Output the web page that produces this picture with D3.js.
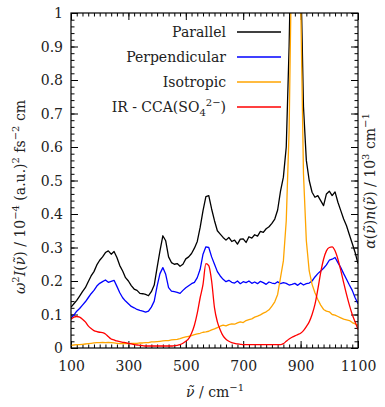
<!DOCTYPE html>
<html><head><meta charset="utf-8">
<script src="https://cdn.jsdelivr.net/npm/d3@7"></script>
<style>
body{margin:0;background:#fff}
svg text{font-family:"DejaVu Serif",serif;fill:#222}
</style>
</head><body>
<svg id="chart" width="385" height="407"></svg>
<script>
const wavenumbers = [100,110,120,130,140,150,160,170,180,190,200,210,220,230,240,250,260,270,280,290,300,310,320,330,340,350,360,370,380,390,400,410,420,430,440,450,460,470,480,490,500,510,520,530,540,550,560,570,580,590,600,610,620,630,640,650,660,670,680,690,700,710,720,730,740,750,760,770,780,790,800,810,820,830,840,850,860,870,880,890,900,910,920,930,940,950,960,970,980,990,1000,1010,1020,1030,1040,1050,1060,1070,1080,1090,1100];

const parallel = [0.122,0.132,0.142,0.155,0.168,0.180,0.198,0.215,0.228,0.248,0.262,0.272,0.285,0.290,0.280,0.288,0.270,0.246,0.230,0.210,0.200,0.186,0.176,0.172,0.163,0.162,0.160,0.156,0.168,0.188,0.240,0.290,0.335,0.320,0.272,0.255,0.250,0.252,0.244,0.250,0.266,0.272,0.282,0.298,0.318,0.360,0.410,0.452,0.455,0.415,0.380,0.350,0.340,0.330,0.322,0.330,0.318,0.322,0.310,0.325,0.326,0.315,0.332,0.328,0.338,0.334,0.348,0.345,0.356,0.362,0.372,0.385,0.412,0.468,0.510,0.600,0.900,1.350,1.650,1.600,1.150,0.720,0.560,0.500,0.465,0.450,0.455,0.440,0.425,0.460,0.468,0.455,0.466,0.435,0.410,0.385,0.365,0.338,0.312,0.285,0.252];

const perpendicular = [0.090,0.098,0.110,0.118,0.128,0.138,0.150,0.162,0.172,0.185,0.193,0.198,0.203,0.196,0.199,0.202,0.184,0.165,0.150,0.140,0.132,0.124,0.120,0.115,0.112,0.110,0.107,0.110,0.122,0.140,0.185,0.222,0.240,0.220,0.180,0.170,0.168,0.166,0.163,0.172,0.180,0.186,0.192,0.196,0.210,0.235,0.280,0.302,0.300,0.272,0.250,0.228,0.215,0.205,0.198,0.202,0.196,0.194,0.200,0.192,0.198,0.195,0.200,0.193,0.197,0.192,0.199,0.195,0.190,0.197,0.194,0.192,0.198,0.192,0.195,0.193,0.188,0.190,0.193,0.187,0.194,0.188,0.192,0.194,0.200,0.212,0.222,0.230,0.238,0.248,0.262,0.265,0.270,0.255,0.240,0.222,0.205,0.188,0.172,0.150,0.132];

const isotropic = [0.008,0.009,0.010,0.010,0.011,0.012,0.013,0.014,0.015,0.016,0.016,0.017,0.016,0.017,0.016,0.015,0.014,0.013,0.013,0.014,0.013,0.014,0.014,0.014,0.015,0.015,0.016,0.016,0.018,0.018,0.019,0.020,0.021,0.022,0.022,0.024,0.025,0.026,0.028,0.031,0.033,0.035,0.037,0.040,0.042,0.044,0.047,0.048,0.050,0.054,0.057,0.061,0.065,0.068,0.066,0.070,0.072,0.071,0.075,0.078,0.076,0.082,0.085,0.087,0.092,0.095,0.099,0.104,0.108,0.114,0.125,0.138,0.160,0.210,0.260,0.380,0.650,1.250,1.900,1.800,1.050,0.520,0.320,0.230,0.190,0.165,0.145,0.128,0.115,0.110,0.108,0.100,0.098,0.094,0.090,0.086,0.084,0.082,0.076,0.072,0.068];

const irCCA = [0.086,0.092,0.094,0.092,0.086,0.078,0.066,0.058,0.052,0.049,0.047,0.046,0.042,0.034,0.027,0.024,0.021,0.019,0.017,0.016,0.014,0.012,0.010,0.009,0.008,0.007,0.006,0.006,0.006,0.006,0.006,0.006,0.006,0.006,0.006,0.006,0.007,0.008,0.010,0.014,0.020,0.028,0.044,0.068,0.104,0.150,0.190,0.252,0.246,0.200,0.120,0.078,0.054,0.036,0.026,0.020,0.016,0.014,0.012,0.011,0.010,0.010,0.010,0.010,0.010,0.010,0.010,0.010,0.010,0.010,0.010,0.010,0.010,0.010,0.013,0.020,0.027,0.032,0.036,0.040,0.044,0.052,0.064,0.078,0.100,0.130,0.175,0.225,0.265,0.290,0.300,0.302,0.290,0.265,0.232,0.195,0.160,0.128,0.100,0.078,0.055];

const xTickValues = [100,300,500,700,900,1100];
const yTickValues = [0,0.1,0.2,0.3,0.4,0.5,0.6,0.7,0.8,0.9,1];

const seriesNames = ["Parallel","Perpendicular","Isotropic","IR - CCA(SO4 2-)"];
const seriesColors = ["#000000","#0000ff","#ffa500","#ff0000"];
const seriesData = [parallel, perpendicular, isotropic, irCCA];

const svg = d3.select("#chart");
const L = 71, R = 358, T = 13, B = 348;
const x = d3.scaleLinear().domain([100,1100]).range([L,R]);
const y = d3.scaleLinear().domain([0,1]).range([B,T]);

svg.append("defs").append("clipPath").attr("id","clip")
  .append("rect").attr("x",L).attr("y",T).attr("width",R-L).attr("height",B-T);

// minor ticks
const xMinor = d3.range(100,1101,20);
const yMinor = d3.range(0,1.0001,0.02);
function drawAxis(axis, tx, ty){
  const g = svg.append("g").attr("transform",`translate(${tx},${ty})`).call(axis);
  g.select(".domain").remove();
  g.selectAll(".tick line").attr("stroke","#000").attr("stroke-width",1);
  return g;
}
drawAxis(d3.axisBottom(x).tickValues(xMinor).tickSize(-3.5).tickFormat(""),0,B);
drawAxis(d3.axisTop(x).tickValues(xMinor).tickSize(-3.5).tickFormat(""),0,T);
drawAxis(d3.axisLeft(y).tickValues(yMinor).tickSize(-3.5).tickFormat(""),L,0);
drawAxis(d3.axisRight(y).tickValues(yMinor).tickSize(-3.5).tickFormat(""),R,0);

const gx = drawAxis(d3.axisBottom(x).tickValues(xTickValues).tickSize(-7).tickFormat(d3.format("d")),0,B);
gx.selectAll("text").attr("y",13).attr("dy","0.71em").attr("font-size",14).attr("font-family","DejaVu Serif").attr("fill","#222");
drawAxis(d3.axisTop(x).tickValues(xTickValues).tickSize(-7).tickFormat(""),0,T);
const gy = drawAxis(d3.axisLeft(y).tickValues(yTickValues).tickSize(-7).tickFormat(d3.format(".1~f")),L,0);
gy.selectAll("text").attr("x",-8).attr("dy","0.35em").attr("font-size",14).attr("font-family","DejaVu Serif").attr("fill","#222");
drawAxis(d3.axisRight(y).tickValues(yTickValues).tickSize(-7).tickFormat(""),R,0);

// lines
const plot = svg.append("g").attr("clip-path","url(#clip)");
seriesData.forEach((vals,i)=>{
  const line = d3.line()
    .x((d,j)=>x(wavenumbers[j]))
    .y(d=>y(d))
    .curve(i===3 ? d3.curveMonotoneX : d3.curveLinear);
  plot.append("path").datum(vals)
    .attr("fill","none").attr("stroke",seriesColors[i])
    .attr("stroke-width",1.3).attr("stroke-linejoin","round")
    .attr("d",line);
});

// frame
svg.append("rect").attr("x",L).attr("y",T).attr("width",R-L).attr("height",B-T)
  .attr("fill","none").attr("stroke","#000").attr("stroke-width",1.2);

// legend
const legY = [32,57,82,107];
seriesNames.forEach((n,i)=>{
  const t = svg.append("text").attr("x",226).attr("y",legY[i]).attr("dy","0.35em")
    .attr("text-anchor","end").attr("font-size",14);
  if(i===3){
    t.append("tspan").text("IR - CCA(SO");
    t.append("tspan").attr("font-size",10).attr("dy","0.45em").text("4");
    t.append("tspan").attr("font-size",10).attr("dy","-1.0em").text("2\u2212");
    t.append("tspan").attr("dy","0.4em").text(")");
  } else t.text(n);
  svg.append("line").attr("x1",237).attr("x2",281).attr("y1",legY[i]).attr("y2",legY[i])
    .attr("stroke",seriesColors[i]).attr("stroke-width",1.3);
});

// x title
const xt = svg.append("text").attr("x",215).attr("y",397).attr("text-anchor","middle").attr("font-size",14);
xt.append("tspan").attr("font-style","italic").text("\u03BD\u0303");
xt.append("tspan").text(" / cm");
xt.append("tspan").attr("font-size",10).attr("dy","-0.6em").text("\u22121");

// left y title
const yl = svg.append("text").attr("transform","translate(25,197) rotate(-90)").attr("text-anchor","middle").attr("font-size",14);
yl.append("tspan").attr("font-style","italic").text("\u03C9");
yl.append("tspan").attr("font-size",10).attr("dy","-0.6em").text("2");
yl.append("tspan").attr("font-style","italic").attr("dy","0.42em").text("I");
yl.append("tspan").text("(");
yl.append("tspan").attr("font-style","italic").text("\u03BD\u0303");
yl.append("tspan").text(") / 10");
yl.append("tspan").attr("font-size",10).attr("dy","-0.6em").text("\u22124");
yl.append("tspan").attr("dy","0.42em").text(" (a.u.)");
yl.append("tspan").attr("font-size",10).attr("dy","-0.6em").text("2");
yl.append("tspan").attr("dy","0.42em").text(" fs");
yl.append("tspan").attr("font-size",10).attr("dy","-0.6em").text("\u22122");
yl.append("tspan").attr("dy","0.42em").text(" cm");

// right y title
const yr = svg.append("text").attr("transform","translate(375,181) rotate(-90)").attr("text-anchor","middle").attr("font-size",14);
yr.append("tspan").attr("font-style","italic").text("\u03B1");
yr.append("tspan").text("(");
yr.append("tspan").attr("font-style","italic").text("\u03BD\u0303");
yr.append("tspan").text(")");
yr.append("tspan").attr("font-style","italic").text("n");
yr.append("tspan").text("(");
yr.append("tspan").attr("font-style","italic").text("\u03BD\u0303");
yr.append("tspan").text(") / 10");
yr.append("tspan").attr("font-size",10).attr("dy","-0.6em").text("3");
yr.append("tspan").attr("dy","0.42em").text(" cm");
yr.append("tspan").attr("font-size",10).attr("dy","-0.6em").text("\u22121");
</script>
</body></html>
